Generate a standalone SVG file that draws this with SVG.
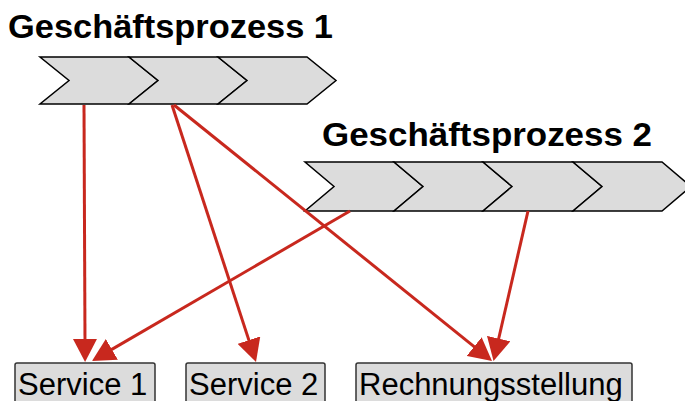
<svg xmlns="http://www.w3.org/2000/svg" width="685" height="401" viewBox="0 0 685 401">
  <style>
    .title { font-family: "Liberation Sans", Arial, sans-serif; font-weight: bold; font-size: 34px; fill: #000; }
    .chev { fill: #dcdcdc; stroke: #000; stroke-width: 1.5; stroke-linejoin: miter; }
    .box { fill: #dcdcdc; stroke: #333; stroke-width: 1.5; }
    .label { font-family: "Liberation Sans", Arial, sans-serif; font-size: 31px; fill: #000; }
    .link { fill: none; stroke: #c8281e; stroke-width: 3; }
  </style>
  <defs>
    <marker id="head" markerUnits="userSpaceOnUse" markerWidth="26" markerHeight="24" refX="4" refY="12" orient="auto" viewBox="0 0 26 24">
      <path d="M0,0 L23,12 L0,24 Z" fill="#c8281e"/>
    </marker>
  </defs>

  <rect width="685" height="401" fill="#fff"/>

  <!-- Process 1: title and three chevron steps -->
  <g id="process1">
    <text class="title" x="8" y="38" textLength="325" lengthAdjust="spacingAndGlyphs">Geschäftsprozess 1</text>
    <polygon class="chev" points="40,57 129,57 158,80.5 129,104 40,104 69,80.5"/>
    <polygon class="chev" points="129,57 218,57 247,80.5 218,104 129,104 158,80.5"/>
    <polygon class="chev" points="218,57 307,57 336,80.5 307,104 218,104 247,80.5"/>
  </g>

  <!-- Process 2: title and four chevron steps -->
  <g id="process2">
    <text class="title" x="322" y="146" textLength="330" lengthAdjust="spacingAndGlyphs">Geschäftsprozess 2</text>
    <polygon class="chev" points="305,162 394,162 423,186.5 394,211 305,211 334,186.5"/>
    <polygon class="chev" points="394,162 483,162 512,186.5 483,211 394,211 423,186.5"/>
    <polygon class="chev" points="483,162 573,162 602,186.5 573,211 483,211 512,186.5"/>
    <polygon class="chev" points="573,162 662,162 691,186.5 662,211 573,211 602,186.5"/>
  </g>

  <!-- Services -->
  <g id="service1">
    <rect class="box" x="15" y="363" width="140" height="50" rx="2"/>
    <text class="label" x="18" y="395">Service 1</text>
  </g>
  <g id="service2">
    <rect class="box" x="186" y="363" width="139" height="50" rx="2"/>
    <text class="label" x="189" y="395">Service 2</text>
  </g>
  <g id="billing">
    <rect class="box" x="356" y="363" width="276" height="50" rx="2"/>
    <text class="label" x="359" y="395">Rechnungsstellung</text>
  </g>

  <!-- Connectors -->
  <g id="connectors">
    <path class="link" marker-end="url(#head)" d="M84,105 L85,343"/>
    <path class="link" marker-end="url(#head)" d="M172,105 L250.1,343.9"/>
    <path class="link" marker-end="url(#head)" d="M174,105 L477.2,349.1"/>
    <path class="link" marker-end="url(#head)" d="M350,211 L108.4,351.4"/>
    <path class="link" marker-end="url(#head)" d="M528,211 L497.8,342.5"/>
  </g>
</svg>
